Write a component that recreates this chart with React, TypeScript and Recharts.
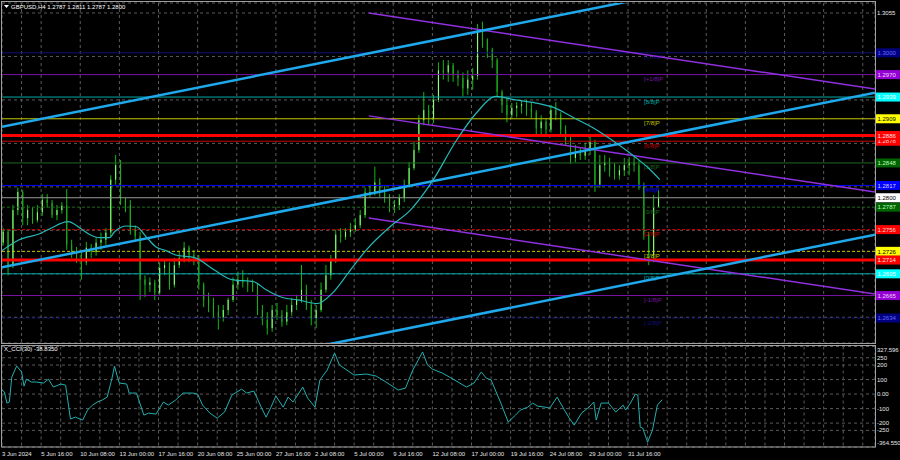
import React from "react";
import { Bar, CartesianGrid, ComposedChart, Line, ReferenceLine, XAxis, YAxis } from "recharts";

const FONT = "'Liberation Sans', Arial, sans-serif";

// 8-hour candles (two H4 bars each)
const candleOpen = [
  1.2738, 1.2753, 1.2707, 1.2783, 1.2808, 1.2772, 1.2783, 1.2769, 1.278, 1.2797, 1.2793, 1.2776, 1.2783, 1.2789, 1.2735,
  1.2725, 1.2717, 1.2711, 1.2731, 1.2725, 1.2738, 1.2742, 1.2752, 1.2825, 1.2845, 1.2797, 1.279, 1.2756, 1.2747, 1.2687,
  1.268, 1.2683, 1.2669, 1.2703, 1.2707, 1.268, 1.2707, 1.2717, 1.2731, 1.2721, 1.2717, 1.268, 1.2659, 1.2652, 1.2642,
  1.2634, 1.2645, 1.2659, 1.268, 1.2687, 1.2683, 1.268, 1.2677, 1.2645, 1.2631, 1.262, 1.2645, 1.2638, 1.2629, 1.2642,
  1.2652, 1.2659, 1.2673, 1.2652, 1.2634, 1.2645, 1.2673, 1.2693, 1.2714, 1.2749, 1.2746, 1.2753, 1.2756, 1.2762, 1.2776,
  1.2807, 1.2808, 1.2821, 1.2808, 1.28, 1.2786, 1.279, 1.28, 1.2818, 1.2841, 1.2866, 1.2907, 1.2921, 1.291, 1.2935,
  1.2976, 1.2973, 1.2983, 1.2969, 1.2965, 1.2951, 1.2963, 1.2968, 1.3029, 1.3018, 1.3004, 1.299, 1.2946, 1.2928, 1.2914,
  1.2924, 1.2927, 1.2929, 1.2924, 1.2918, 1.2896, 1.2905, 1.2894, 1.2921, 1.2914, 1.2894, 1.288, 1.2855, 1.2863, 1.2858,
  1.2866, 1.2877, 1.2818, 1.2845, 1.2849, 1.2838, 1.2831, 1.2838, 1.2845, 1.2849, 1.2845, 1.2818, 1.2749, 1.2721, 1.2787,
];
const candleHigh = [
  1.2758, 1.2756, 1.279, 1.2814, 1.2811, 1.279, 1.2787, 1.279, 1.2805, 1.2805, 1.2797, 1.279, 1.2794, 1.2812, 1.2742,
  1.2732, 1.2728, 1.2739, 1.2736, 1.2745, 1.2752, 1.2758, 1.2831, 1.2859, 1.2852, 1.28, 1.2797, 1.2762, 1.2753, 1.2693,
  1.269, 1.2687, 1.2711, 1.2714, 1.2711, 1.2717, 1.2725, 1.2739, 1.2734, 1.2728, 1.2721, 1.2683, 1.2669, 1.2662, 1.2652,
  1.2652, 1.2662, 1.269, 1.2698, 1.27, 1.269, 1.2687, 1.2681, 1.2652, 1.2642, 1.2652, 1.2655, 1.2645, 1.2652, 1.2662,
  1.2666, 1.2707, 1.268, 1.2659, 1.2652, 1.2683, 1.2707, 1.2721, 1.2756, 1.2758, 1.2758, 1.2765, 1.2772, 1.2783, 1.2814,
  1.2818, 1.2843, 1.2827, 1.2816, 1.2805, 1.2797, 1.2805, 1.2825, 1.2849, 1.2877, 1.2914, 1.2946, 1.2928, 1.2942, 1.2987,
  1.299, 1.299, 1.2986, 1.2976, 1.2973, 1.2976, 1.2979, 1.304, 1.3043, 1.302, 1.3007, 1.2993, 1.2949, 1.2938, 1.2931,
  1.2932, 1.2935, 1.2935, 1.2932, 1.2921, 1.2914, 1.291, 1.2928, 1.2932, 1.2918, 1.29, 1.2884, 1.2873, 1.287, 1.2876,
  1.2884, 1.288, 1.2859, 1.2859, 1.2855, 1.2848, 1.2845, 1.2855, 1.2856, 1.2856, 1.2852, 1.2821, 1.2753, 1.2804, 1.2811,
];
const candleLow = [
  1.2734, 1.2693, 1.2703, 1.2776, 1.2762, 1.2762, 1.2764, 1.2766, 1.2775, 1.2786, 1.2772, 1.2769, 1.2778, 1.2728, 1.2717,
  1.271, 1.2687, 1.2707, 1.2717, 1.272, 1.2728, 1.2734, 1.2747, 1.2818, 1.279, 1.278, 1.2749, 1.2739, 1.2659, 1.2663,
  1.267, 1.2659, 1.2666, 1.2693, 1.2673, 1.2676, 1.2703, 1.2711, 1.2711, 1.2707, 1.2673, 1.2649, 1.2642, 1.2634, 1.2618,
  1.2629, 1.2638, 1.2656, 1.2673, 1.2676, 1.267, 1.267, 1.2638, 1.2624, 1.2611, 1.2615, 1.2631, 1.2622, 1.2624, 1.2637,
  1.2645, 1.2655, 1.2645, 1.2624, 1.262, 1.2642, 1.2669, 1.2687, 1.271, 1.2738, 1.2742, 1.2746, 1.2753, 1.2758, 1.2772,
  1.2801, 1.2803, 1.2801, 1.2793, 1.278, 1.2779, 1.2783, 1.2794, 1.2814, 1.2838, 1.2862, 1.29, 1.29, 1.2903, 1.2932,
  1.2963, 1.296, 1.296, 1.2954, 1.294, 1.2942, 1.2949, 1.2963, 1.3007, 1.2993, 1.2979, 1.2939, 1.2917, 1.2904, 1.291,
  1.2911, 1.2916, 1.2913, 1.291, 1.2888, 1.2888, 1.2887, 1.289, 1.2907, 1.2887, 1.2873, 1.2847, 1.2849, 1.2852, 1.2852,
  1.2859, 1.2808, 1.2814, 1.2836, 1.2829, 1.2825, 1.2825, 1.283, 1.2831, 1.2836, 1.2811, 1.2742, 1.2707, 1.2711, 1.2787,
];
const candleClose = [
  1.2753, 1.2707, 1.2783, 1.2808, 1.2772, 1.2783, 1.2769, 1.278, 1.2797, 1.2793, 1.2776, 1.2783, 1.2789, 1.2735, 1.2725,
  1.2717, 1.2711, 1.2731, 1.2725, 1.2738, 1.2742, 1.2752, 1.2825, 1.2845, 1.2797, 1.279, 1.2756, 1.2747, 1.2687, 1.268,
  1.2683, 1.2669, 1.2703, 1.2707, 1.268, 1.2707, 1.2717, 1.2731, 1.2721, 1.2717, 1.268, 1.2659, 1.2652, 1.2642, 1.2634,
  1.2645, 1.2659, 1.268, 1.2687, 1.2683, 1.268, 1.2677, 1.2645, 1.2631, 1.262, 1.2645, 1.2638, 1.2629, 1.2642, 1.2652,
  1.2659, 1.2673, 1.2652, 1.2634, 1.2645, 1.2673, 1.2693, 1.2714, 1.2749, 1.2746, 1.2753, 1.2756, 1.2762, 1.2776, 1.2807,
  1.2808, 1.2821, 1.2808, 1.28, 1.2786, 1.279, 1.28, 1.2818, 1.2841, 1.2866, 1.2907, 1.2921, 1.291, 1.2935, 1.2976,
  1.2973, 1.2983, 1.2969, 1.2965, 1.2951, 1.2963, 1.2968, 1.3029, 1.3018, 1.3004, 1.299, 1.2946, 1.2928, 1.2914, 1.2924,
  1.2927, 1.2929, 1.2924, 1.2918, 1.2896, 1.2905, 1.2894, 1.2921, 1.2914, 1.2894, 1.288, 1.2855, 1.2863, 1.2858, 1.2866,
  1.2877, 1.2818, 1.2845, 1.2849, 1.2838, 1.2831, 1.2838, 1.2845, 1.2849, 1.2845, 1.2818, 1.2749, 1.2721, 1.2787, 1.28,
];

// moving average (H4 bar index -> price)
const maBars = [0, 7, 16, 20, 27, 32, 36, 40, 44, 46, 51, 55, 59, 63, 67, 71, 79, 87, 94, 103, 108, 115, 121, 129, 135, 142, 149, 159, 167, 176, 186, 194, 202, 210, 218, 226, 234, 243, 251, 259, 264, 269];
const maValues = [
  1.2727, 1.2742, 1.2751, 1.2758, 1.2767, 1.2758, 1.2749, 1.2745, 1.2745, 1.2753, 1.2761, 1.276, 1.2746, 1.2732, 1.2727,
  1.2721, 1.2717, 1.27, 1.2687, 1.2684, 1.2673, 1.2662, 1.2659, 1.2654, 1.2668, 1.2698, 1.2728, 1.2761, 1.2783, 1.2823,
  1.288, 1.2917, 1.294, 1.2935, 1.2931, 1.2924, 1.291, 1.2894, 1.2876, 1.2856, 1.2842, 1.2825,
];

// X_CCI(30) (H4 bar index -> value)
const cciBars = [
  0, 1, 2, 3, 4, 6, 8, 9, 10, 12, 14, 17, 19, 21, 24, 26, 28, 30, 33, 35, 37, 39, 41, 43, 45, 46, 47, 48, 51, 52, 55, 58,
  60, 63, 66, 68, 71, 74, 78, 80, 82, 85, 88, 91, 94, 98, 100, 103, 106, 108, 110, 112, 115, 117, 119, 123, 125, 128, 130,
  133, 136, 138, 144, 149, 153, 157, 162, 165, 168, 172, 174, 176, 180, 183, 190, 193, 196, 198, 200, 204, 207, 210, 212,
  215, 217, 219, 222, 224, 227, 230, 232, 234, 237, 240, 242, 243, 245, 248, 251, 254, 255, 257, 259, 260, 261, 262, 264,
  266, 268, 270,
];
const cciValues = [
  28, 14, -62, -55, 117, 193, 152, 55, 103, 83, 83, 76, 103, 48, 69, 62, -172, -159, -179, -110, -76, -55, -41, -21, 110,
  193, 131, 76, 69, 7, 7, -145, -131, -138, -55, -76, -41, 7, 7, 0, -76, -131, -166, -124, -7, 34, 7, 21, -90, -159, -90,
  -14, -90, -21, -55, 48, -28, -90, 97, 166, 283, 200, 131, 138, 124, 83, 28, 41, 166, 290, 200, 172, 145, 117, 48, 76,
  152, 110, 97, -62, -193, -145, -110, -90, -62, -83, -90, -97, -21, -110, -166, -214, -131, -90, -55, -179, -62, -62,
  -124, -76, -110, -62, 0, -7, -228, -234, -331, -248, -76, -39,
];

const priceTicks = [1.2605, 1.2635, 1.2665, 1.2695, 1.2725, 1.2755, 1.2785, 1.2815, 1.2845, 1.2875, 1.2905, 1.2935, 1.2965, 1.2995, 1.3025, 1.3055];
const cciTicks = [327.596, 250, 200, 100, 0, -100, -200, -250, -364.55];
const cciTickText = ["327.596", "250", "200", "100", "0.00", "-100", "-200", "-250", "-364.550"];
const timeLabels = [
  "3 Jun 2024", "5 Jun 16:00", "10 Jun 08:00", "13 Jun 00:00", "17 Jun 16:00", "20 Jun 08:00", "25 Jun 00:00",
  "27 Jun 16:00", "2 Jul 08:00", "5 Jul 00:00", "9 Jul 16:00", "12 Jul 08:00", "17 Jul 00:00", "19 Jul 16:00",
  "24 Jul 08:00", "29 Jul 00:00", "31 Jul 16:00",
];

// Murrey math levels
const levelNames = ["[+2/8]P", "[+1/8]P", "[8/8]P", "[7/8]P", "[6/8]P", "[5/8]P", "[4/8]P", "[3/8]P", "[2/8]P", "[1/8]P", "[0/8]P", "[-1/8]P", "[-2/8]P"];
const levelPrices = [1.3, 1.297, 1.2939, 1.2909, 1.2878, 1.2848, 1.2817, 1.2787, 1.2756, 1.2726, 1.2695, 1.2665, 1.2634];
const redLevels = [1.2886, 1.2714];
const lastPrice = 1.28;

// trend channels: [bar1, price1, bar2, price2]
const blueChannel = [
  [0, 1.2898, 357, 1.3139],
  [0, 1.2704, 357, 1.2945],
  [122, 1.259, 357, 1.2749],
];
const purpleChannel = [
  [150, 1.3055, 357, 1.295],
  [150, 1.2913, 357, 1.2808],
  [150, 1.2772, 357, 1.2667],
];

const levelStyle = [
  { line: "#10107a", box: "#000080", ink: "#6a6aff", dash: undefined },
  { line: "#7a12a8", box: "#9400d3", ink: "#f0d8ff", dash: undefined },
  { line: "#00aaaa", box: "#00ffff", ink: "#ffffff", dash: undefined },
  { line: "#c8c800", box: "#ffff00", ink: "#000000", dash: undefined },
  { line: "#c80000", box: "#ff0000", ink: "#ffd8d8", dash: undefined },
  { line: "#1f6a1f", box: "#006400", ink: "#b8ffb8", dash: undefined },
  { line: "#0000ff", box: "#0000ff", ink: "#d0d0ff", dash: undefined },
  { line: "#1f6a1f", box: "#006400", ink: "#b8ffb8", dash: "3 2" },
  { line: "#d00000", box: "#ff0000", ink: "#ffd8d8", dash: "3 2" },
  { line: "#c8c800", box: "#ffff00", ink: "#000000", dash: "3 2" },
  { line: "#00aaaa", box: "#00ffff", ink: "#ffffff", dash: undefined },
  { line: "#7a12a8", box: "#9400d3", ink: "#f0d8ff", dash: undefined },
  { line: "#10107a", box: "#000080", ink: "#6a6aff", dash: "3 2" },
];

const candles = candleOpen.map((open, k) => ({
  bar: k * 2 + 0.5,
  open,
  high: candleHigh[k],
  low: candleLow[k],
  close: candleClose[k],
}));
const maData = maBars.map((bar, i) => ({ bar, ma: maValues[i] }));
const cciData = cciBars.map((bar, i) => ({ bar, cci: cciValues[i] }));
const gridBars = Array.from({ length: 45 }, (_, i) => i * 8);
const boxedPrices = [...levelPrices, ...redLevels, lastPrice];

function Candle(props: any) {
  const { x, y, width, height, payload } = props;
  if (x == null || !payload) return null;
  const top = Math.min(y, y + height);
  const h = Math.abs(height);
  const k = h / (payload.high - payload.low || 1e-6);
  const up = payload.close >= payload.open;
  const bodyTop = top + (payload.high - Math.max(payload.open, payload.close)) * k;
  const bodyH = Math.max(1, Math.abs(payload.close - payload.open) * k);
  const cx = x + width / 2;
  return (
    <g>
      <line x1={cx} x2={cx} y1={top} y2={top + h} stroke="#12b812" strokeWidth={1} />
      <rect x={x} y={bodyTop} width={width} height={bodyH} fill={up ? "#8cff7a" : "#22a822"} />
    </g>
  );
}

// price labels that sit under a level box are hidden by it, as in the terminal
function PriceTick({ x, y, payload }: any) {
  const v = Number(payload.value);
  if (boxedPrices.some((p) => Math.abs(p - v) < 0.00065)) return null;
  return (
    <text x={x + 2} y={y + 2} fill="#e6e6e6" fontSize={6} fontFamily={FONT}>
      {v.toFixed(4)}
    </text>
  );
}

function CciTick({ x, y, payload, index }: any) {
  const shift = index === 0 ? 3 : index === cciTicks.length - 1 ? -4 : 0;
  return (
    <text x={x + 2} y={y + 2 + shift} fill="#e6e6e6" fontSize={6} fontFamily={FONT}>
      {cciTickText[index] ?? payload.value}
    </text>
  );
}

function TimeTick({ x, y, payload }: any) {
  const v = payload.value;
  if (v % 16 !== 0 || !timeLabels[v / 16]) return null;
  return (
    <text x={x} y={y + 7} fill="#e6e6e6" fontSize={6} fontFamily={FONT}>
      {timeLabels[v / 16]}
    </text>
  );
}

function LevelTag(props: any) {
  const { viewBox, name, price, color, box, ink } = props;
  if (!viewBox) return null;
  const left = viewBox.x;
  const ly = viewBox.y;
  const right = viewBox.x + viewBox.width;
  return (
    <g>
      {name ? (
        <text x={left + 642} y={ly + 6.5} fill={color} fontSize={6} fontFamily={FONT}>
          {name}
        </text>
      ) : null}
      <rect x={right + 1} y={ly - 4.5} width={24} height={9} fill={box} />
      <text x={right + 2.5} y={ly + 2.2} fill={ink} fontSize={6} fontFamily={FONT}>
        {price.toFixed(4)}
      </text>
    </g>
  );
}

export default function App() {
  return (
    <div style={{ position: "absolute", left: 0, top: 0, width: 900, height: 460, background: "#000", overflow: "hidden" }}>
      <div style={{ position: "absolute", left: 0, top: 0 }}>
        <ComposedChart width={900} height={345} data={candles} margin={{ top: 3, right: 0, bottom: 2, left: 2 }}>
          <CartesianGrid stroke="#5a5a5a" strokeDasharray="3 3" />
          <XAxis type="number" dataKey="bar" domain={[0, 357]} ticks={gridBars} allowDataOverflow hide />
          <YAxis
            orientation="right"
            width={25}
            domain={[1.25995, 1.30688]}
            ticks={priceTicks}
            allowDataOverflow
            axisLine={false}
            tickLine={false}
            tickSize={0}
            tickMargin={0}
            tick={<PriceTick />}
          />
          <Bar dataKey={(d: any) => [d.low, d.high]} shape={<Candle />} barSize={3} isAnimationActive={false} />
          {levelPrices.map((p, i) => (
            <ReferenceLine
              key={levelNames[i]}
              y={p}
              stroke={levelStyle[i].line}
              strokeDasharray={levelStyle[i].dash}
              strokeWidth={1}
              label={<LevelTag name={levelNames[i]} price={p} color={levelStyle[i].line} box={levelStyle[i].box} ink={levelStyle[i].ink} />}
            />
          ))}
          {redLevels.map((p) => (
            <ReferenceLine key={p} y={p} stroke="#ff0000" strokeWidth={3} label={<LevelTag price={p} box="#ff0000" ink="#ffe0e0" />} />
          ))}
          <ReferenceLine y={lastPrice} stroke="#9a9a9a" strokeWidth={1} label={<LevelTag price={lastPrice} box="#ffffff" ink="#000000" />} />
          {purpleChannel.map((s, i) => (
            <ReferenceLine
              key={"p" + i}
              segment={[{ x: s[0], y: s[1] }, { x: s[2], y: s[3] }]}
              stroke="#9030e0"
              strokeWidth={1.5}
              ifOverflow="hidden"
            />
          ))}
          {blueChannel.map((s, i) => (
            <ReferenceLine
              key={"b" + i}
              segment={[{ x: s[0], y: s[1] }, { x: s[2], y: s[3] }]}
              stroke="#1fa8ec"
              strokeWidth={2.5}
              ifOverflow="hidden"
            />
          ))}
          <Line data={maData} dataKey="ma" type="monotone" stroke="#26b8b8" strokeWidth={1.2} dot={false} isAnimationActive={false} />
        </ComposedChart>
      </div>
      <div style={{ position: "absolute", left: 0, top: 345 }}>
        <ComposedChart width={900} height={115} data={cciData} margin={{ top: 1.5, right: 0, bottom: 0, left: 2 }}>
          <CartesianGrid stroke="#5a5a5a" strokeDasharray="3 3" />
          <XAxis
            type="number"
            dataKey="bar"
            domain={[0, 357]}
            ticks={gridBars}
            interval={0}
            allowDataOverflow
            height={13}
            axisLine={false}
            tickLine={false}
            tickSize={0}
            tick={<TimeTick />}
          />
          <YAxis
            orientation="right"
            width={25}
            domain={[-364.55, 327.596]}
            ticks={cciTicks}
            interval={0}
            allowDataOverflow
            axisLine={false}
            tickLine={false}
            tickSize={0}
            tickMargin={0}
            tick={<CciTick />}
          />
          <Line dataKey="cci" type="linear" stroke="#22aeae" strokeWidth={1} dot={false} isAnimationActive={false} />
        </ComposedChart>
      </div>
      <svg width={900} height={460} style={{ position: "absolute", left: 0, top: 0, pointerEvents: "none" }}>
        <rect x={1.5} y={1.5} width={874} height={342} fill="none" stroke="#a0a0a0" strokeWidth={1} />
        <rect x={1.5} y={345.5} width={874} height={101.5} fill="none" stroke="#a0a0a0" strokeWidth={1} />
        <polygon points="4,5 9,5 6.5,8" fill="#ffffff" />
        <text x={11} y={9} fill="#ffffff" fontSize={6} fontFamily={FONT}>
          GBPUSD,H4  1.2787 1.2811 1.2787 1.2800
        </text>
        <text x={4} y={351} fill="#ffffff" fontSize={6} fontFamily={FONT}>
          X_CCI(30) -38.8350
        </text>
      </svg>
    </div>
  );
}
